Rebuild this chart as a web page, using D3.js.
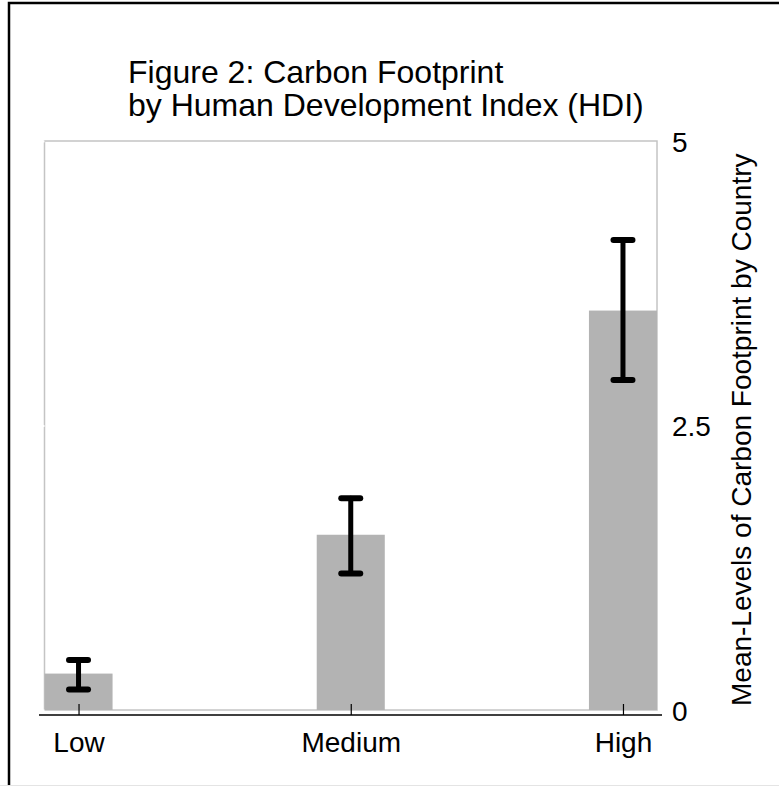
<!DOCTYPE html>
<html>
<head>
<meta charset="utf-8">
<script src="https://cdn.jsdelivr.net/npm/d3@7"></script>
<style>
  html, body { margin: 0; padding: 0; background: #fff; overflow: hidden; }
  svg { display: block; font-family: "Liberation Sans", Arial, Helvetica, sans-serif; }
</style>
</head>
<body>
<svg id="chart" width="779" height="786"></svg>
<script>
// ---- DATA ----
const categories = ["Low", "Medium", "High"];
const meanValues = [0.32, 1.54, 3.51];
const ciLower = [0.18, 1.20, 2.90];
const ciUpper = [0.44, 1.86, 4.13];
const yTicks = [0, 2.5, 5];
const titleLines = ["Figure 2: Carbon Footprint", "by Human Development Index (HDI)"];
const yTitle = "Mean-Levels of Carbon Footprint by Country";

const rows = categories.map((c, i) => ({
    cat: c, pos: i + 1, mean: meanValues[i], lo: ciLower[i], hi: ciUpper[i]
}));

const svg = d3.select("#chart");

// ---- OUTER FRAME (top + left only, rest is cropped) ----
svg.append("path")
    .attr("d", "M9,786V3H779")
    .attr("fill", "none")
    .attr("stroke", "#000")
    .attr("stroke-width", 2.5);

svg.append("line")
    .attr("x1", 0).attr("x2", 779)
    .attr("y1", 785.5).attr("y2", 785.5)
    .attr("stroke", "#e4e4e4");

// ---- SCALES ----
const plot = { left: 44.5, right: 657, top: 141, bottom: 710 };
const barWidth = 0.25;

const x = d3.scaleLinear()
    .domain([1 - barWidth / 2, categories.length + barWidth / 2])
    .range([plot.left, plot.right]);

const y = d3.scaleLinear()
    .domain([0, 5])
    .range([plot.bottom, plot.top]);

// ---- PLOT REGION ----
svg.append("rect")
    .attr("x", plot.left).attr("y", plot.top)
    .attr("width", plot.right - plot.left)
    .attr("height", plot.bottom - plot.top)
    .attr("fill", "#fff")
    .attr("stroke", "#c4c4c4")
    .attr("stroke-width", 1.5);

// bars
svg.selectAll(".bar")
    .data(rows)
    .enter()
    .append("rect")
    .attr("class", "bar")
    .attr("x", d => x(d.pos - barWidth / 2))
    .attr("width", d => x(d.pos + barWidth / 2) - x(d.pos - barWidth / 2))
    .attr("y", d => y(d.mean))
    .attr("height", d => y(0) - y(d.mean))
    .attr("fill", "#b3b3b3");

// left axis: white ticks only
svg.append("g")
    .attr("transform", `translate(${plot.left},0)`)
    .call(d3.axisLeft(y).tickValues(yTicks).tickSize(3).tickFormat(""))
    .call(g => g.select(".domain").remove())
    .call(g => g.selectAll(".tick line").attr("stroke", "#fff").attr("stroke-width", 2));

// error bars
const err = svg.selectAll(".err")
    .data(rows)
    .enter()
    .append("g")
    .attr("class", "err")
    .attr("stroke", "#000")
    .attr("stroke-linecap", "round");

err.append("line")
    .attr("x1", d => x(d.pos)).attr("x2", d => x(d.pos))
    .attr("y1", d => y(d.lo)).attr("y2", d => y(d.hi))
    .attr("stroke-width", 5);

err.selectAll(".cap")
    .data(d => [d.lo, d.hi].map(v => ({ pos: d.pos, v })))
    .enter()
    .append("line")
    .attr("x1", d => x(d.pos) - 9.5).attr("x2", d => x(d.pos) + 9.5)
    .attr("y1", d => y(d.v)).attr("y2", d => y(d.v))
    .attr("stroke-width", 6);

// ---- X AXIS ----
const xAxis = d3.axisBottom(x)
    .tickValues(rows.map(d => d.pos))
    .tickFormat((d, i) => categories[i])
    .tickSizeInner(-11)
    .tickSizeOuter(0)
    .tickPadding(17);

svg.append("g")
    .attr("transform", "translate(0,715)")
    .call(xAxis)
    .call(g => g.select(".domain")
        .attr("d", `M${plot.left - 5.5},0H${plot.right + 5}`)
        .attr("stroke-width", 1.6))
    .call(g => g.selectAll(".tick line").attr("stroke-width", 1.2))
    .call(g => g.selectAll(".tick text")
        .attr("font-size", 28)
        .attr("font-family", "Liberation Sans, Arial, sans-serif")
        .attr("fill", "#000"));

// ---- Y AXIS (right, labels only) ----
svg.append("g")
    .attr("transform", `translate(${plot.right},0)`)
    .call(d3.axisRight(y).tickValues(yTicks).tickFormat(d3.format("")).tickSize(0).tickPadding(15))
    .call(g => g.select(".domain").remove())
    .call(g => g.selectAll(".tick text")
        .attr("font-size", 28)
        .attr("font-family", "Liberation Sans, Arial, sans-serif")
        .attr("dy", "0.36em")
        .attr("fill", "#000"));

// y title
svg.append("text")
    .attr("transform", "translate(751,706) rotate(-90)")
    .attr("font-size", 28)
    .attr("fill", "#000")
    .text(yTitle);

// ---- TITLE (one text, two lines) ----
svg.append("text")
    .attr("x", 128)
    .attr("y", 83)
    .attr("font-size", 32)
    .attr("fill", "#000")
    .selectAll("tspan")
    .data(titleLines)
    .enter()
    .append("tspan")
    .attr("x", 128)
    .attr("dy", (d, i) => i === 0 ? 0 : 33)
    .text(d => d);
</script>
</body>
</html>
